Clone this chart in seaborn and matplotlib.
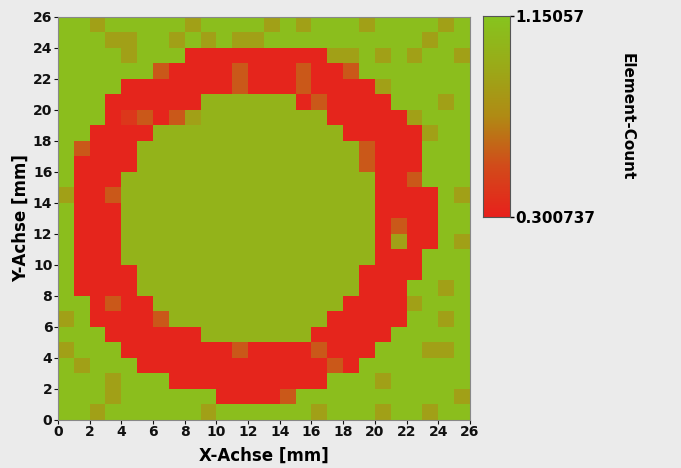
import numpy as np
import pandas as pd
import matplotlib
matplotlib.use("Agg")
import matplotlib.pyplot as plt
from matplotlib.colors import LinearSegmentedColormap
import seaborn as sns

# cell levels, top row (y = 25) first, x = 0..25
# G outer green, g inner green, o olive, e orange, R orange-red, r red
rows_top_down = [
    "GGoGGGGGoGGGGoGoGGGoGGGGoG",
    "GGGooGGoGoGooGGGGGGGGGGoGG",
    "GGGGoGGGrrrrrrrrrooGoGoGGo",
    "GGGGGGerrrrerrrerreGGGGGGG",
    "GGGGrrrrrrrerrrerrrroGGGGG",
    "GGGrrrrrrggggggrerrrrGGGoG",
    "GGGrRereoggggggggrrrrroGGG",
    "GGrrrrggggggggggggrrrrroGG",
    "GerrrggggggggggggggerrrGGG",
    "GrrrrggggggggggggggerrrGGG",
    "GrrrggggggggggggggggrreGGG",
    "orreggggggggggggggggrrrrGo",
    "GrrrggggggggggggggggrrrrGG",
    "GrrrggggggggggggggggrerrGG",
    "GrrrggggggggggggggggrorrGo",
    "GrrrggggggggggggggggrrrGGG",
    "GrrrrggggggggggggggrrrrGGG",
    "GrrrrggggggggggggggrrrGGoG",
    "GGrerrggggggggggggrrrroGGG",
    "oGrrrreggggggggggrrrrrGGoG",
    "GGGrrrrrrgggggggrrrrrGGGGG",
    "oGGGrrrrrrrerrrrerrrGGGooG",
    "GoGGGrrrrrrrrrrrrerGGGGGGG",
    "GGGoGGGrrrrrrrrrrGGGoGGGGG",
    "GGGoGGGGGGrrrreGGGGGGGGGGo",
    "GGoGGGGGGoGGGGGGoGGGoGGoGG",
]
levels = {"G": 1.10, "g": 1.01, "o": 0.87, "e": 0.56, "R": 0.42, "r": 0.33}
vmin, vmax = 0.300737, 1.15057
x_ticks = list(range(0, 27, 2))
y_ticks = list(range(0, 27, 2))

grid = np.array([[levels[c] for c in row] for row in rows_top_down])[::-1]
df = pd.DataFrame(grid)

cmap = LinearSegmentedColormap.from_list(
    "rg", ["#e8201c", "#d24a1a", "#b08a14", "#9aaa18", "#86c41e"])

plt.rcParams["font.family"] = ["DejaVu Sans"]
fig = plt.figure(figsize=(6.81, 4.68), dpi=100, facecolor="#ebebeb")
ax = fig.add_axes([0.085, 0.103, 0.605, 0.861])
cax = fig.add_axes([0.709, 0.536, 0.040, 0.430])

sns.heatmap(df, ax=ax, cbar_ax=cax, cmap=cmap, vmin=vmin, vmax=vmax,
            xticklabels=False, yticklabels=False)
ax.invert_yaxis()
ax.set_xlim(0, 26)
ax.set_ylim(0, 26)
ax.set_xticks(x_ticks)
ax.set_xticklabels([str(t) for t in x_ticks], fontweight="bold", fontsize=10)
ax.set_yticks(y_ticks)
ax.set_yticklabels([str(t) for t in y_ticks], fontweight="bold", fontsize=10)
ax.tick_params(length=3, width=0.8, pad=1, colors="#111111")
for s in ax.spines.values():
    s.set_visible(True)
    s.set_color("#888888")
    s.set_linewidth(0.8)
ax.set_xlabel("X-Achse [mm]", fontweight="bold", fontsize=12, labelpad=5)
ax.set_ylabel("Y-Achse [mm]", fontweight="bold", fontsize=12, labelpad=2)

cax.set_yticks([vmin, vmax])
cax.set_yticklabels(["0.300737", "1.15057"], fontweight="bold", fontsize=11)
cax.tick_params(length=3, width=1.0, pad=1)
cax.set_ylabel("Element-Count", rotation=270, fontweight="bold",
               fontsize=11, labelpad=28)
for s in cax.spines.values():
    s.set_visible(True)
    s.set_color("#555555")

fig.savefig("out.png", dpi=100, facecolor=fig.get_facecolor())
